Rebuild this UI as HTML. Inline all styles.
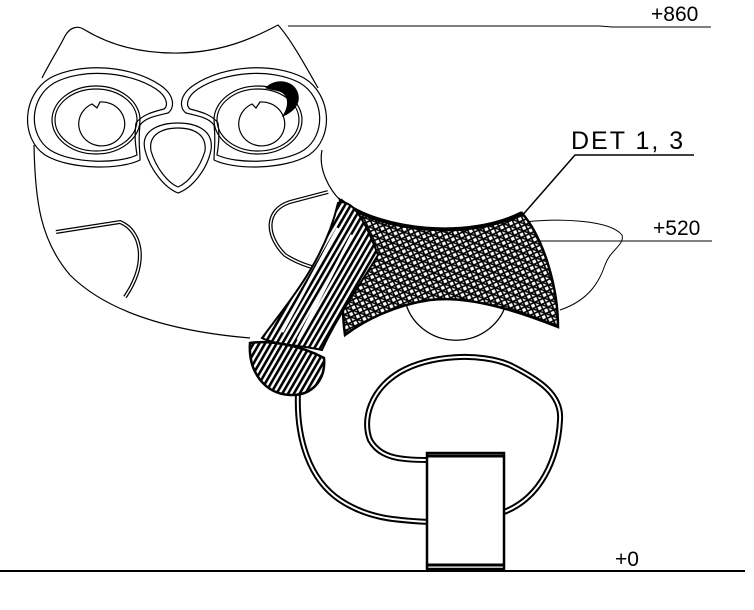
<!DOCTYPE html>
<html><head><meta charset="utf-8"><style>
html,body{margin:0;padding:0;background:#fff;width:754px;height:610px;overflow:hidden}
svg{display:block}
text{font-family:"Liberation Sans",sans-serif;fill:#000}
</style></head><body>
<svg width="754" height="610" viewBox="0 0 754 610" xmlns="http://www.w3.org/2000/svg">
<defs>
<pattern id="h" width="5" height="5" patternUnits="userSpaceOnUse" patternTransform="rotate(30)">
<rect width="5" height="5" fill="#fff"/><rect width="2.6" height="5" fill="#000"/></pattern>
<pattern id="x" width="7" height="7" patternUnits="userSpaceOnUse" patternTransform="rotate(20)">
<rect width="7" height="7" fill="#fff"/><path d="M0 0L7 7M7 0L0 7M0 3H7" stroke="#000" stroke-width="1.6"/></pattern>
</defs>
<g fill="none" stroke="#000">
<path d="M318,88 C305,65 290,38 278,25 C250,40 220,52 180,53 C140,54 110,45 85,30 C78,25 70,27 65,36 C58,50 50,62 42,78" stroke-width="1.2"/>
<path d="M322,150 C318,170 330,190 340,200" stroke-width="1.2"/>
<path d="M34,145 C35,200 40,240 70,275 C110,315 180,332 250,338" stroke-width="1.2"/>
<g stroke-width="1.2">
<path d="M140,160 C120,170 70,170 45,155 C20,138 22,95 50,78 C80,62 130,65 160,85 C175,95 175,108 168,113 C155,116 145,118 140,125 C138,140 140,150 140,160 Z"/>
<path d="M137,155 C118,164 72,164 50,150 C28,135 29,98 54,83 C82,68 128,71 156,89 C168,97 168,106 164,109 C152,112 142,115 136,123 C134,138 136,148 137,155 Z"/>
<ellipse cx="96" cy="120" rx="44" ry="34"/><ellipse cx="96" cy="120" rx="41" ry="31"/>
<path d="M100,102 A23,22 0 1 1 92,104 L97,108 Z"/>
<path d="M214,160 C234,170 284,170 309,155 C334,138 332,95 304,78 C274,62 224,65 194,85 C179,95 179,108 186,113 C199,116 209,118 214,125 C216,140 214,150 214,160 Z"/>
<path d="M217,155 C236,164 282,164 304,150 C326,135 325,98 300,83 C272,68 226,71 198,89 C186,97 186,106 190,109 C202,112 212,115 218,123 C220,138 218,148 217,155 Z"/>
<ellipse cx="258" cy="120" rx="44" ry="34"/><ellipse cx="258" cy="120" rx="41" ry="31"/>
<path d="M260,102 A23,22 0 1 1 252,104 L256,108 Z"/>
<path d="M178,123 C160,123 140,130 145,150 C150,170 165,188 178,193 C192,188 207,170 211,150 C214,130 196,123 178,123 Z"/>
<path d="M178,128 C163,128 148,134 151,151 C156,168 168,183 178,187 C188,183 200,168 205,151 C207,134 193,128 178,128 Z"/>
<path d="M56,232 L120,222 C140,230 150,260 125,297" stroke-width="4"/>
<path d="M56,232 L120,222 C140,230 150,260 125,297" stroke="#fff" stroke-width="1.5"/>
<path d="M328,192 L290,202 C265,210 265,235 285,255 C300,265 320,270 335,272" stroke-width="4"/>
<path d="M328,192 L290,202 C265,210 265,235 285,255 C300,265 320,270 335,272" stroke="#fff" stroke-width="1.5"/>
</g>
<path d="M266,88 C275,78 295,80 298,95 C300,105 292,112 283,116 C290,105 290,92 275,90 Z" fill="#000"/>
<path d="M288,26 H600 L612,27 H711" stroke-width="1"/>
<path d="M520,218 L575,155 H694" stroke-width="1.5"/>
<path d="M532,241 H712" stroke-width="1"/>
<path d="M525,222 C560,218 610,220 622,235 C625,245 610,250 605,265 C600,280 590,300 560,310" stroke-width="1"/>
<path d="M405,300 A52,50 0 0 0 507,300" stroke-width="1.3"/>
<g stroke-width="6">
<path d="M298,392 C296,440 310,480 340,500 C370,520 400,520 428,522"/>
<path d="M504,512 C540,498 558,460 560,420 C562,395 540,380 510,365 C480,352 430,355 400,372 C370,390 362,420 370,440 C380,458 400,460 428,460"/>
</g>
<g stroke-width="2" stroke="#fff">
<path d="M298,392 C296,440 310,480 340,500 C370,520 400,520 428,522"/>
<path d="M504,512 C540,498 558,460 560,420 C562,395 540,380 510,365 C480,352 430,355 400,372 C370,390 362,420 370,440 C380,458 400,460 428,460"/>
</g>
<path d="M340,200 C380,232 470,240 522,213 C545,240 558,290 558,327 C520,312 470,295 430,300 C395,305 365,320 345,335 C340,300 345,260 340,200 Z" fill="url(#x)" stroke-width="2.5"/>
<path d="M340,200 C380,232 470,240 522,213" stroke-width="4"/>
<path d="M338,203 C352,198 365,220 378,255 C360,285 335,320 322,350 C300,345 275,345 262,338 C290,300 325,260 338,203 Z" fill="url(#h)" stroke-width="2"/>
<path d="M250,343 C248,372 265,394 290,395 C312,396 326,380 324,358 C300,345 270,340 250,343 Z" fill="url(#h)" stroke-width="2.5"/>
<path d="M352,235 L298,340 M338,228 L282,332" stroke="#fff" stroke-width="3"/>
<rect x="427" y="453" width="77" height="116" stroke-width="2.5" fill="#fff"/>
<path d="M427,456 H504 M427,565 H504" stroke-width="3"/>
<path d="M0,571 H745" stroke-width="2"/>
</g>
<text x="651" y="21" font-size="21">+860</text>
<text x="571" y="149" font-size="25" letter-spacing="2">DET 1, 3</text>
<text x="653" y="235" font-size="21">+520</text>
<text x="615" y="566" font-size="21">+0</text>
</svg>
</body></html>
